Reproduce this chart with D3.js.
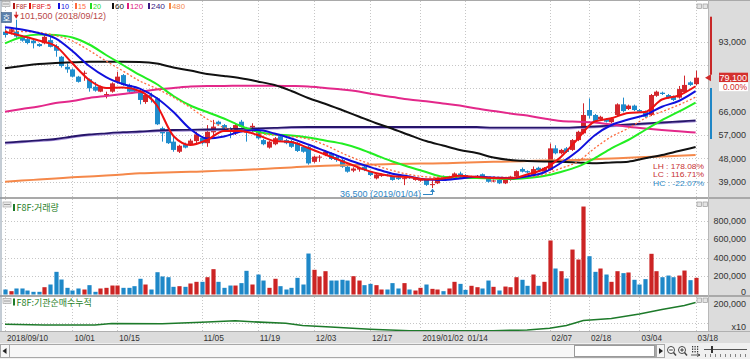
<!DOCTYPE html>
<html><head><meta charset="utf-8">
<script src="https://cdn.jsdelivr.net/npm/d3@7"></script>
<style>
html,body{margin:0;padding:0;background:#fff;}
svg{display:block;font-family:"Liberation Sans",Arial,sans-serif;}
</style></head><body>
<svg id="chart" width="750" height="359"></svg>
<script>
// ---------------- DATA ----------------
const open  = [96860,96600,96860,94800,94000,93400,92100,92400,93600,91300,87200,83300,82300,79500,80600,78500,75600,73700,72300,73700,77500,80100,76300,75000,73800,69700,72400,71100,59600,58900,54400,50500,53400,53500,54600,55900,53800,58000,62100,60800,59600,57600,62100,59600,59900,58900,55000,52100,53400,56500,55000,54600,53800,52400,52400,46600,48300,49200,49900,48500,47300,44700,43200,43600,44700,42800,40200,41100,41700,40900,40600,40000,40900,39600,39300,39600,37600,38300,40900,40000,40200,42100,41500,40300,40300,41800,40200,39000,39600,38300,39600,40900,43800,43000,41500,44300,42800,43400,51800,49900,51800,51200,55000,57600,66600,64700,63100,63100,61900,64700,68800,67000,68300,66600,66000,64700,72100,73300,72400,71800,71400,73500,77300,76600];
const high  = [98100,98500,101500,95500,94500,93800,92400,95500,94800,92000,87500,84600,82700,79800,81800,78800,77400,76000,73700,77300,81400,80500,76800,75500,74300,73000,73300,71500,60200,59300,56900,53200,54000,55500,58200,56500,60800,62800,62500,61200,60000,61300,62800,60100,61500,59500,55500,54800,56200,57000,55500,55000,54200,52800,52800,49000,49200,51000,50300,49000,47700,45000,44500,44700,45000,43000,42000,42100,42000,41200,40900,40800,41200,40800,40200,39900,39500,40800,41300,41200,42500,42800,41800,41200,41500,42100,40500,39800,39900,39900,41200,43300,44400,43300,44800,44700,44600,53700,53000,51600,52300,55400,58600,69200,71100,65100,64400,63500,63800,69200,71400,68700,68700,67000,66400,72800,74100,73700,72800,72200,75900,79900,77700,81800];
const low   = [94700,95800,94500,93000,92000,90400,91000,92000,90800,87200,83000,81000,79200,77200,77900,73700,73700,73500,71100,73300,76800,76000,73300,73300,68800,69000,69500,60800,54400,53500,50500,50000,51800,53000,53800,53300,52400,56900,60800,59000,55700,57000,59800,54400,58200,55300,53000,51700,53000,54400,53400,52000,50400,50100,45500,46200,46600,48800,47300,46600,44300,42400,42600,42800,43000,41100,39800,40800,41000,39300,39600,37600,40000,39300,38900,37300,36500,38000,39300,39700,40000,40600,40200,40000,40100,40600,38600,38700,38000,38000,39300,40600,42500,42200,41200,43000,42500,43200,49500,49500,50000,50800,54600,57200,63400,61700,62700,61800,61500,64300,65800,66600,66200,65600,63600,64300,71700,72400,71000,70100,71000,73100,75900,76200];
const close = [95590,97800,95000,93400,92500,92400,91300,94900,91000,89500,83600,82300,79500,77500,81000,75000,74100,75600,72800,76900,79500,76300,73700,73700,70500,72400,71800,61100,57600,53800,51200,52800,52100,54800,57200,53800,58200,60200,61100,59500,58500,60800,60200,58900,60500,55700,53400,54400,55700,54800,53800,52400,50800,50500,46000,48600,48600,50500,47700,47300,44700,42800,44000,44200,43400,41500,41700,41700,41200,39600,39900,40300,40300,40500,39800,37700,38000,40500,39600,40900,42100,40900,40500,40900,41200,40900,38900,39400,38300,39600,40900,43000,42800,42500,43800,43400,44300,51800,49900,51200,50400,55000,58200,64700,64400,62400,64000,62100,63400,68800,66200,68300,66600,66000,64000,72400,73700,72800,71400,70500,74700,76300,76300,79100];
const volume = [54000,36000,65000,65000,43000,29000,29000,79000,108000,245000,162000,72000,43000,65000,54000,101000,29000,65000,72000,97000,97000,72000,72000,90000,170000,108000,54000,241000,195000,187000,83000,90000,83000,119000,137000,137000,187000,274000,137000,72000,97000,97000,123000,256000,108000,216000,151000,72000,170000,90000,54000,72000,180000,108000,443000,267000,195000,252000,151000,151000,159000,151000,198000,151000,101000,115000,101000,54000,54000,123000,65000,123000,54000,43000,72000,108000,61000,54000,36000,65000,137000,115000,50000,94000,79000,65000,151000,83000,43000,86000,79000,187000,159000,94000,216000,94000,137000,584000,281000,252000,173000,486000,378000,951000,414000,245000,281000,216000,137000,252000,231000,238000,159000,108000,166000,440000,252000,187000,205000,187000,205000,259000,155000,180000];

const tickIndex  = [0,12,20,35,45,55,65,74,82,97,104,113,123];
const tickLabels = ["2018/09/10","10/01","10/15","11/05","11/19","12/03","12/17","2019/01/02","01/14","02/07","02/18","03/04","03/18"];
const priceTicks  = [39000,48000,57000,66000,75000,84000,93000];
const volumeTicks = [0,200000,400000,600000,800000];
const cumTicks    = [200000];

// moving averages, read at every third session
const maIndex = [0,3,6,9,12,15,18,21,24,27,30,33,36,39,42,45,48,51,54,57,60,63,66,69,72,75,78,81,84,87,90,93,96,99,102,105,108,111,114,117,120,123];
const ma5   = [96860,95200,93460,91340,84660,78210,75110,75310,73960,68550,56570,53100,55030,58500,58500,56960,54640,54260,51940,49430,46920,44400,42280,41040,40620,39770,40160,41200,40740,40350,40230,41700,43830,48460,55420,62170,63410,65460,65840,70670,72220,75800];
const ma10  = [98560,97710,96360,94310,89410,83610,79360,76660,74880,71250,65840,59280,55610,56380,58310,58890,57540,55610,53290,50780,48270,45950,43940,42010,40930,39770,39580,40160,40850,40540,40230,41000,42470,46140,50780,56770,60820,62950,64680,67890,70090,73900];
const ma15  = [97130,96940,96560,95400,93270,89600,85540,81680,77820,74920,71450,67580,63140,59860,58310,57540,56960,56380,55420,53100,50000,47300,45180,43250,41700,40810,40540,40460,40740,40740,40540,40740,41700,44100,46650,51820,56300,59550,63410,65960,68550,71600];
const ma20  = [92380,94820,95780,95590,94620,91920,87860,84000,80140,76660,72030,68360,65840,63330,60440,58230,57150,56770,55990,54840,53680,51750,49230,46720,44600,42670,40850,40460,40350,40150,39960,40350,41120,42670,44720,47960,51820,55030,58890,62750,65960,69500];
const ma60  = [82720,83610,84390,84770,85040,85240,85280,85280,85160,84580,83030,81870,80520,79750,78860,77630,76270,73960,71250,69050,66620,64110,61600,59390,56960,54640,52900,51170,50000,48270,47300,46920,46720,46650,46340,46030,46340,46650,47960,49230,50780,52320];
const ma120 = [65960,67000,67970,69320,70090,71250,72030,72800,73570,74540,75120,75690,75890,75890,76000,76000,76000,75890,75690,75120,74540,73760,72600,71640,70670,69980,69130,68350,67200,66230,65260,64490,63330,62370,62060,61790,61020,60160,59470,58890,58390,57920];
const ma240 = [53990,54450,54910,55410,56380,57150,57620,58040,58310,58700,58890,58970,59080,59200,59360,59550,59740,59980,60050,60050,60050,60050,60050,60050,60050,60050,60050,60050,60050,59780,59780,59780,59780,59780,59980,60250,60630,61020,61400,61790,62180,62560];
const ma480 = [38920,39340,39770,40190,40620,40970,41310,41740,42160,42360,42550,42740,42940,43210,43440,43750,44100,44440,44790,45060,45290,45450,45560,45720,45830,45950,46030,46260,46450,46610,46720,46920,47110,47230,47300,47610,47880,48190,48460,48690,48920,49230];

// institutional cumulative net buying (x10)
const cumIndex = [0,7,16,19,28,35,41,44,50,53,58,65,72,80,87,93,97,100,103,108,113,117,121,123];
const cumValue = [-9400,-16000,-16000,-1900,-3800,10300,24400,14100,0,-20700,-34700,-55400,-69500,-69500,-69500,-62900,-46900,-20700,26300,45100,87300,129600,167100,195300];

const legendLabels = ["F8F","F8F:5","10","15","20","60","120","240","480"];
const legendColors = ["#b01818","#e01010","#1010dd","#ff6a3d","#22dd22","#111111","#e0207f","#3a1a84","#f5884a"];
const maxPrice = 101500, maxIndex = 2, maxDate = "2018/09/12";
const minPrice = 36500, minIndex = 76, minDate = "2019/01/04";
const lastPrice = 79100, changeText = "0.00%";
const statTexts = ["LH : 178.08%","LC : 116.71%","HC : -22.07%"];
const statColors = ["#c83232","#c83232","#2e88c4"];
const volTitle = "F8F:거래량", cumTitle = "F8F:기관순매수누적", cumUnit = "x10";

// ---------------- LAYOUT ----------------
const W = 750, H = 359, PL = 2, PR = 708;
const MAIN = {top:1, bottom:197}, VOL = {top:199, bottom:295}, CUM = {top:297, bottom:331};
const UP = "#d3272d", DOWN = "#1f8ccc";
const fmt = d3.format(",");

const svg = d3.select("#chart");
const x  = d3.scaleLinear().domain([0, 123]).range([5, 695.6]);
const yP = d3.scaleLinear().domain([39000, 93000]).range([181.5, 41.7]);
const yV = d3.scaleLinear().domain([0, 800000]).range([294.5, 220.5]);
const yC = d3.scaleLinear().domain([0, 200000]).range([323.3, 302]);

// backgrounds
svg.append("rect").attr("width", W).attr("height", H).attr("fill", "#fff");
svg.append("rect").attr("x", PR).attr("y", 0).attr("width", W - PR).attr("height", 343).attr("fill", "#dcdcdc");
svg.append("rect").attr("x", 0).attr("y", CUM.bottom).attr("width", W).attr("height", 12).attr("fill", "#dcdcdc");

const defs = svg.append("defs");
defs.append("clipPath").attr("id", "clipMain").append("rect")
  .attr("x", PL).attr("y", MAIN.top).attr("width", PR - PL).attr("height", MAIN.bottom - MAIN.top);
defs.append("clipPath").attr("id", "clipCum").append("rect")
  .attr("x", PL).attr("y", CUM.top).attr("width", PR - PL).attr("height", CUM.bottom - CUM.top);

// grid
const grid = svg.append("g").attr("stroke", "#c6c6c6").attr("stroke-dasharray", "1,2").attr("stroke-width", 1);
priceTicks.forEach(v => grid.append("line").attr("x1", PL).attr("x2", PR)
  .attr("y1", Math.round(yP(v)) + 0.5).attr("y2", Math.round(yP(v)) + 0.5));
volumeTicks.slice(1).forEach(v => grid.append("line").attr("x1", PL).attr("x2", PR)
  .attr("y1", Math.round(yV(v)) + 0.5).attr("y2", Math.round(yV(v)) + 0.5));
grid.append("line").attr("x1", PL).attr("x2", PR).attr("y1", Math.round(yC(0)) + 0.5).attr("y2", Math.round(yC(0)) + 0.5);
tickIndex.forEach(i => {
  [[MAIN.top, MAIN.bottom], [VOL.top, VOL.bottom], [CUM.top, CUM.bottom]].forEach(r =>
    grid.append("line").attr("x1", Math.round(x(i)) + 0.5).attr("x2", Math.round(x(i)) + 0.5)
      .attr("y1", r[0]).attr("y2", r[1]));
});

// separators & borders
const sep = svg.append("g").attr("stroke", "#a9a9a9");
sep.append("line").attr("x1", 0).attr("x2", W).attr("y1", 198).attr("y2", 198).attr("stroke-width", 2);
sep.append("line").attr("x1", 0).attr("x2", W).attr("y1", 296).attr("y2", 296).attr("stroke-width", 2);
sep.append("line").attr("x1", 0).attr("x2", W).attr("y1", 0.5).attr("y2", 0.5);
sep.append("line").attr("x1", 1).attr("x2", 1).attr("y1", 0).attr("y2", CUM.bottom).attr("stroke", "#8899aa");
sep.append("line").attr("x1", PR + 0.5).attr("x2", PR + 0.5).attr("y1", 0).attr("y2", CUM.bottom).attr("stroke", "#b8b8b8");
sep.append("line").attr("x1", 0).attr("x2", W).attr("y1", CUM.bottom + 0.5).attr("y2", CUM.bottom + 0.5).attr("stroke", "#b0b0b0");

// ---------------- CANDLES ----------------
const idx = d3.range(close.length);
const isUp = i => close[i] >= open[i];
const main = svg.append("g").attr("clip-path", "url(#clipMain)");
const cg = main.append("g");
idx.forEach(i => {
  const col = isUp(i) ? UP : DOWN;
  const cx = Math.round(x(i)) + 0.5;
  cg.append("line").attr("x1", cx).attr("x2", cx).attr("y1", yP(high[i])).attr("y2", yP(low[i]))
    .attr("stroke", col).attr("stroke-width", 1);
  const t = yP(Math.max(open[i], close[i])), b = yP(Math.min(open[i], close[i]));
  cg.append("rect").attr("x", cx - 2.5).attr("y", t).attr("width", 5).attr("height", Math.max(1, b - t))
    .attr("fill", col);
});

// ---------------- MOVING AVERAGES ----------------
const maLine = d3.line().x(d => x(d[0])).y(d => yP(d[1])).curve(d3.curveMonotoneX);
const series = (vals) => maIndex.map((i, k) => [i, vals[k]]);
const maDefs = [
  {v: ma480, c: "#f5884a", w: 2},
  {v: ma240, c: "#a994dc", w: 1.2, dy: 1.2},
  {v: ma240, c: "#26156a", w: 1.8},
  {v: ma120, c: "#e3288a", w: 2},
  {v: ma60,  c: "#111111", w: 2},
  {v: ma20,  c: "#22ee22", w: 2},
  {v: ma15,  c: "#ff6a3d", w: 1.3, dash: "2,2"},
  {v: ma10,  c: "#1010dd", w: 2},
  {v: ma5,   c: "#ee1111", w: 2}
];
maDefs.forEach(m => {
  main.append("path").attr("d", maLine(series(m.v))).attr("fill", "none")
    .attr("transform", m.dy ? `translate(0,${m.dy})` : null)
    .attr("stroke", m.c).attr("stroke-width", m.w).attr("stroke-dasharray", m.dash || null);
});

// ---------------- VOLUME ----------------
const vg = svg.append("g");
idx.forEach(i => {
  vg.append("rect").attr("x", Math.round(x(i)) - 1.6).attr("y", yV(volume[i]))
    .attr("width", 4.2).attr("height", yV(0) - yV(volume[i]))
    .attr("fill", isUp(i) ? "#cc2424" : "#1e88c8");
});

// ---------------- CUMULATIVE ----------------
const cumLine = d3.line().x((d, k) => x(cumIndex[k])).y(d => yC(d));
svg.append("g").attr("clip-path", "url(#clipCum)").append("path")
  .attr("d", cumLine(cumValue)).attr("fill", "none").attr("stroke", "#1d7a2a").attr("stroke-width", 1.6);

// ---------------- AXES ----------------
const axText = svg.append("g").attr("font-size", 9).attr("fill", "#333").attr("text-anchor", "end");
priceTicks.filter(v => Math.abs(yP(v) - yP(lastPrice)) > 14).forEach(v =>
  axText.append("text").attr("x", 746).attr("y", yP(v) + 3.5).text(fmt(v)));
volumeTicks.forEach(v =>
  axText.append("text").attr("x", 746).attr("y", Math.min(yV(v) + 3, 295)).text(fmt(v)));
cumTicks.forEach(v =>
  axText.append("text").attr("x", 746).attr("y", yC(v) + 4.5).text(fmt(v)));
axText.append("text").attr("x", 746).attr("y", 329.5).text(cumUnit);

const xAx = svg.append("g").attr("font-size", 8.6).attr("fill", "#333");
tickIndex.forEach((i, k) =>
  xAx.append("text").attr("x", x(i) + 2).attr("y", 340.5)
    .attr("textLength", tickLabels[k].length * 4.1).attr("lengthAdjust", "spacingAndGlyphs")
    .text(tickLabels[k]));

// ---------------- RIGHT PRICE MARKERS ----------------
svg.append("rect").attr("x", 710).attr("y", yP(maxPrice) - 3).attr("width", 2).attr("height", yP(lastPrice) - yP(maxPrice)).attr("fill", "#c82828");
svg.append("rect").attr("x", 710).attr("y", 88).attr("width", 2).attr("height", 51).attr("fill", "#1f86c6");
svg.append("path").attr("d", `M705,${yP(lastPrice)} L711,${yP(lastPrice) - 3.5} L711,${yP(lastPrice) + 3.5} Z`).attr("fill", "#d02a2a");
svg.append("rect").attr("x", 719).attr("y", yP(lastPrice) - 5).attr("width", 29).attr("height", 9.5).attr("fill", "#d4302e");
svg.append("text").attr("x", 747).attr("y", yP(lastPrice) + 3.2).attr("text-anchor", "end").attr("font-size", 9).attr("fill", "#fff").text(fmt(lastPrice));
svg.append("rect").attr("x", 719).attr("y", yP(lastPrice) + 4.5).attr("width", 29).attr("height", 9).attr("fill", "#fff");
svg.append("text").attr("x", 747).attr("y", yP(lastPrice) + 12.3).attr("text-anchor", "end").attr("font-size", 8.5).attr("fill", "#d02a2a").text(changeText);

// stats
statTexts.forEach((t, k) => svg.append("text").attr("x", 704).attr("y", 169 + k * 8.3)
  .attr("text-anchor", "end").attr("font-size", 7.2).attr("fill", statColors[k])
  .attr("textLength", 51).attr("lengthAdjust", "spacingAndGlyphs").text(t));

// ---------------- ANNOTATIONS ----------------
svg.append("text").attr("x", 20).attr("y", 19).attr("font-size", 9).attr("fill", "#b84848")
  .text(`${fmt(maxPrice)} (${maxDate})`);
svg.append("path").attr("d", `M${x(maxIndex) - 2.5},${yP(maxPrice) - 5} L${x(maxIndex) + 2.5},${yP(maxPrice) - 5} L${x(maxIndex)},${yP(maxPrice) - 1} Z`).attr("fill", "#d02020");
svg.append("line").attr("x1", x(maxIndex)).attr("x2", x(maxIndex)).attr("y1", yP(maxPrice) - 8).attr("y2", yP(maxPrice) - 4).attr("stroke", "#d02020");

svg.append("text").attr("x", 421).attr("y", 196.5).attr("font-size", 9).attr("fill", "#2f86c4").attr("text-anchor", "end")
  .text(`${fmt(minPrice)} (${minDate})`);
const mx = Math.round(x(minIndex)) + 0.5;
svg.append("path").attr("d", `M423,194.5 H${mx} V${yP(minPrice) + 2}`).attr("fill", "none").attr("stroke", "#2f86c4");
svg.append("path").attr("d", `M${mx - 2.5},${yP(minPrice) + 4} L${mx + 2.5},${yP(minPrice) + 4} L${mx},${yP(minPrice) + 0.5} Z`).attr("fill", "#2f86c4");

// ---------------- LEGEND ----------------
const legX = [13, 29, 58, 75, 90, 112, 127, 148, 169];
const legW = [11, 19, 8, 8, 8, 9, 13, 14, 13];
const lg = svg.append("g").attr("font-size", 8);
legendLabels.forEach((l, k) => {
  lg.append("rect").attr("x", legX[k]).attr("y", 3).attr("width", 2).attr("height", 6).attr("fill", legendColors[k]);
  lg.append("text").attr("x", legX[k] + 3).attr("y", 9).attr("fill", legendColors[k])
    .attr("textLength", legW[k]).attr("lengthAdjust", "spacingAndGlyphs").text(l);
});
// menu icons
function menuIcon(x0, y0) {
  const g = svg.append("g");
  g.append("rect").attr("x", x0).attr("y", y0).attr("width", 8).attr("height", 5).attr("fill", "#e8e8e8").attr("stroke", "#9a9a9a").attr("stroke-width", 0.6);
  g.append("line").attr("x1", x0 + 1).attr("x2", x0 + 7).attr("y1", y0 + 2.5).attr("y2", y0 + 2.5).attr("stroke", "#8a8a8a").attr("stroke-width", 0.8);
}
menuIcon(2, 1.5); menuIcon(3, 202); menuIcon(3, 298.5);
function winIcons(y0) {
  [697, 703].forEach(x0 => svg.append("rect").attr("x", x0).attr("y", y0).attr("width", 4.5).attr("height", 4.5)
    .attr("fill", "#e4e4e4").attr("stroke", "#9a9a9a").attr("stroke-width", 0.7));
}
winIcons(4); winIcons(202); winIcons(298);
// "호" button
svg.append("rect").attr("x", 1.5).attr("y", 12.5).attr("width", 10).attr("height", 10).attr("fill", "#5a80ac").attr("stroke", "#3c5e86").attr("stroke-width", 0.6);
svg.append("text").attr("x", 6.5).attr("y", 20.5).attr("text-anchor", "middle").attr("font-size", 8)
  .attr("font-family", "Noto Sans CJK KR").attr("fill", "#fff").text("호");

// panel titles
[[volTitle, 211], [cumTitle, 305.5]].forEach(([t, yy]) => {
  svg.append("rect").attr("x", 13).attr("y", yy - 7).attr("width", 2).attr("height", 7).attr("fill", "#1d7a2a");
  svg.append("text").attr("x", 16.5).attr("y", yy).attr("font-size", 9).attr("font-family", "Noto Sans CJK KR")
    .attr("fill", "#2a7f2a").text(t);
});

// ---------------- SCROLLBAR ----------------
const sb = svg.append("g");
sb.append("rect").attr("x", 0).attr("y", 343).attr("width", W).attr("height", 16).attr("fill", "#f0f0f0");
sb.append("rect").attr("x", 0.5).attr("y", 344.5).attr("width", 655).attr("height", 13).attr("fill", "#f7f7f7").attr("stroke", "#a8a8a8");
sb.append("rect").attr("x", 574.5).attr("y", 345.5).attr("width", 80).attr("height", 11).attr("fill", "#fff").attr("stroke", "#9a9a9a");
sb.append("path").attr("d", "M2.5,351 L6.5,348 L6.5,354 Z").attr("fill", "#222");
sb.append("line").attr("x1", 9.5).attr("x2", 9.5).attr("y1", 345).attr("y2", 357).attr("stroke", "#a8a8a8");
sb.append("rect").attr("x", 656.5).attr("y", 344.5).attr("width", 8).attr("height", 13).attr("fill", "#f4f4f4").attr("stroke", "#a8a8a8");
sb.append("path").attr("d", "M659,348 L663,351 L659,354 Z").attr("fill", "#222");
[[671, "-"], [682, "+"]].forEach(([cx, s]) => {
  sb.append("circle").attr("cx", cx).attr("cy", 350).attr("r", 3.5).attr("fill", "#fff").attr("stroke", "#444").attr("stroke-width", 1);
  sb.append("line").attr("x1", cx + 2.5).attr("x2", cx + 5).attr("y1", 352.5).attr("y2", 355.5).attr("stroke", "#444").attr("stroke-width", 1.4);
  sb.append("line").attr("x1", cx - 1.8).attr("x2", cx + 1.8).attr("y1", 350).attr("y2", 350).attr("stroke", "#333");
  if (s === "+") sb.append("line").attr("x1", cx).attr("x2", cx).attr("y1", 348.2).attr("y2", 351.8).attr("stroke", "#333");
});
[692, 694.5, 697].forEach(xx => [346, 348.5, 351].forEach(yy =>
  sb.append("rect").attr("x", xx).attr("y", yy).attr("width", 1.2).attr("height", 1.4).attr("fill", "#333")));
sb.append("path").attr("d", "M691,355 H700 M697,353.5 L700,355 L697,356.5").attr("stroke", "#333").attr("fill", "none").attr("stroke-width", 0.8);
sb.append("line").attr("x1", 704).attr("x2", 747).attr("y1", 349.5).attr("y2", 349.5).attr("stroke", "#555");
sb.append("rect").attr("x", 711).attr("y", 346).attr("width", 2).attr("height", 7).attr("fill", "#333");
d3.range(9).forEach(k => sb.append("line").attr("x1", 705 + k * 5 + 0.5).attr("x2", 705 + k * 5 + 0.5)
  .attr("y1", 354).attr("y2", 357).attr("stroke", "#666").attr("stroke-width", 0.8));
</script>
</body></html>
